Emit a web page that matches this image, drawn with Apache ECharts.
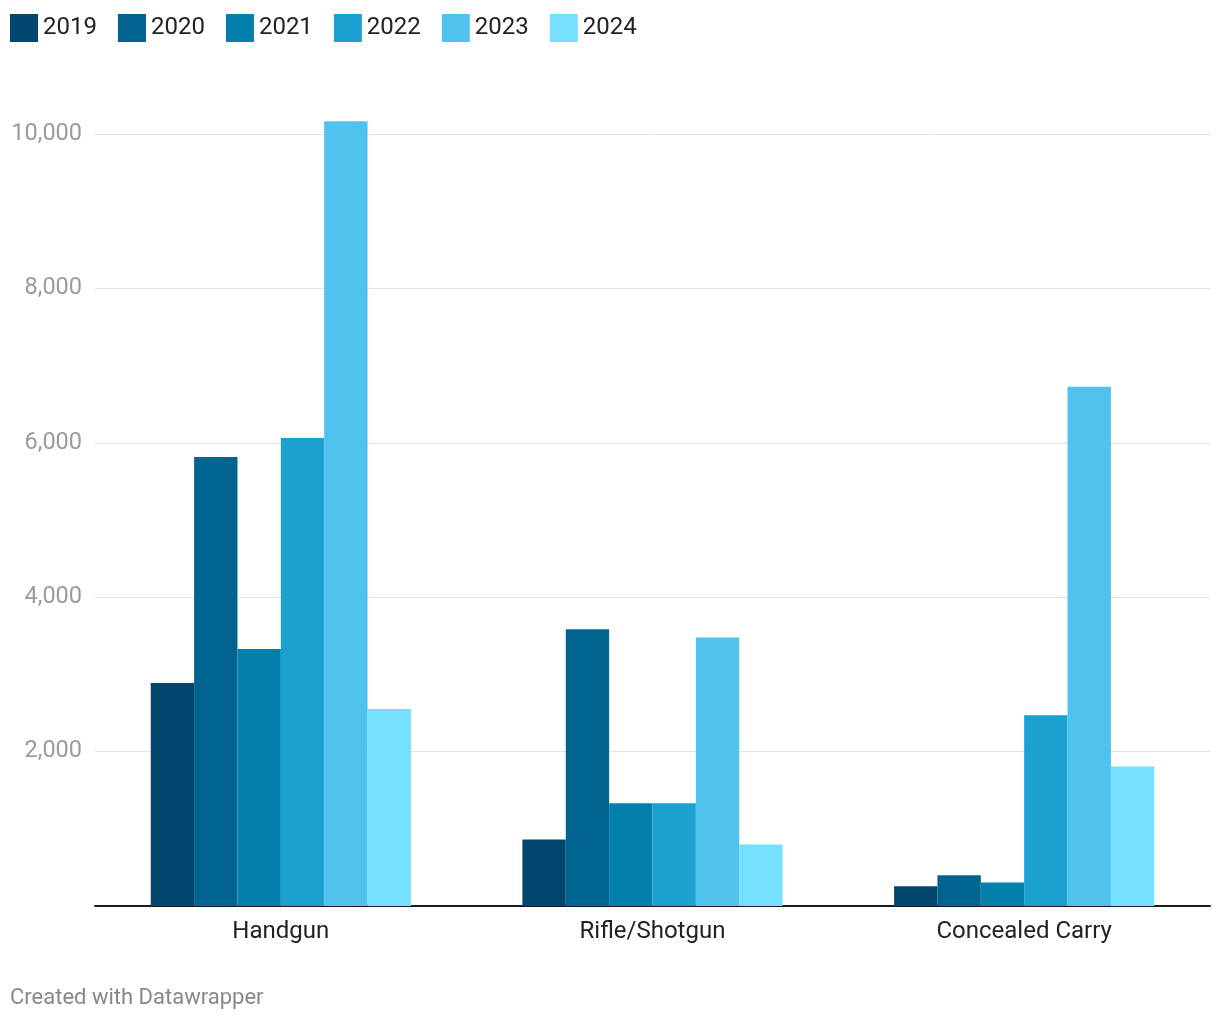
<!DOCTYPE html>
<html>
<head>
<meta charset="utf-8">
<script src="https://cdn.jsdelivr.net/npm/echarts@6/dist/echarts.min.js"></script>
<style>
html,body{margin:0;padding:0;background:#fff;}
#chart{width:1220px;height:1020px;}
</style>
</head>
<body>
<div id="chart"></div>
<script>
const categories = ['Handgun', 'Rifle/Shotgun', 'Concealed Carry'];
const years = ['2019', '2020', '2021', '2022', '2023', '2024'];
const v2019 = [2890, 862, 255];
const v2020 = [5815, 3585, 398];
const v2021 = [3330, 1332, 306];
const v2022 = [6062, 1332, 2470];
const v2023 = [10164, 3478, 6725];
const v2024 = [2552, 798, 1808];
const seriesValues = [v2019, v2020, v2021, v2022, v2023, v2024];
const colors = ['#00466d', '#00648e', '#0280ab', '#1aa1cf', '#4fc3ee', '#75e0fe'];
const yTicks = [0, 2000, 4000, 6000, 8000, 10000];

const chart = echarts.init(document.getElementById('chart'));
const font = 'Roboto';
chart.setOption({
  animation: false,
  textStyle: { fontFamily: font },
  legend: {
    left: 10, top: 14, padding: 0,
    itemWidth: 28, itemHeight: 28, itemGap: 21,
    icon: 'rect',
    textStyle: { fontSize: 24, color: '#222', fontFamily: font },
    data: years
  },
  grid: { left: 95, right: 10, top: 134, bottom: 114, containLabel: false },
  xAxis: {
    type: 'category',
    data: categories,
    axisLine: { lineStyle: { color: '#1d1d1d', width: 2 } },
    axisTick: { show: false },
    axisLabel: { fontSize: 24, color: '#222', margin: 14, fontFamily: font }
  },
  yAxis: {
    type: 'value',
    min: 0, max: 10000, interval: 2000,
    axisLine: { show: false },
    axisTick: { show: false },
    splitLine: { lineStyle: { color: '#e2e2e2', width: 1 } },
    axisLabel: {
      fontSize: 23.5, color: '#9b9b9b', margin: 13, fontFamily: font,
      formatter: v => v === 0 ? '' : v.toLocaleString('en-US')
    }
  },
  series: years.map((y, i) => ({
    name: y,
    type: 'bar',
    data: seriesValues[i],
    clip: false,
    barGap: '0%',
    barCategoryGap: '30%',
    itemStyle: { color: colors[i] }
  })),
  graphic: [{
    type: 'text', left: 10, top: 987,
    style: { text: 'Created with Datawrapper', fontSize: 22, fill: '#888', fontFamily: font }
  }]
});
</script>
</body>
</html>
